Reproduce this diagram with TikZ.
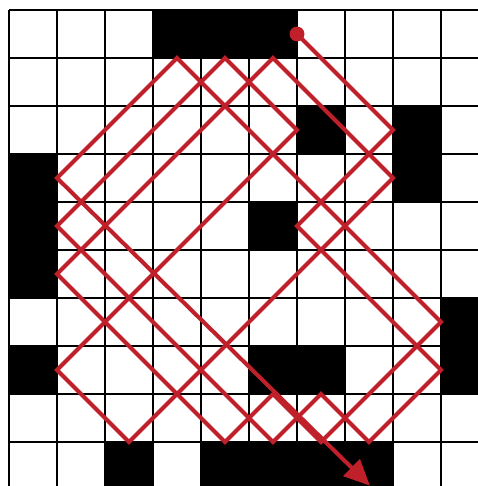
\documentclass[tikz,border=0pt]{standalone}
\usetikzlibrary{arrows.meta}
\definecolor{raycol}{RGB}{192,32,42}
\begin{document}
\begin{tikzpicture}[x=1cm,y=-1cm,
  gridline/.style={line width=1.1pt,black},
  blackcell/.style={fill=black},
  raypath/.style={draw=raycol,line width=2.4pt,line join=miter,miter limit=10}]
\useasboundingbox (-0.1875,-0.2083) rectangle (9.7708,9.9167);
\fill[white] (-0.1875,-0.2083) rectangle (9.7708,9.9167);
\begin{scope}
\clip (-0.1875,-0.2083) rectangle (9.7708,9.9167);
\foreach \c/\r in {3/0,4/0,5/0,6/2,8/2,0/3,8/3,0/4,5/4,0/5,9/6,0/7,5/7,6/7,9/7,2/9,4/9,5/9,6/9,7/9}
  \fill[blackcell] (\c,\r) rectangle ++(1,1);
\foreach \i in {0,...,9} {
  \draw[gridline] (\i,0) -- (\i,10);
  \draw[gridline] (0,\i) -- (10,\i);
}
\end{scope}
% reflection points of the ray
\coordinate (p0) at (6,0.5);
\coordinate (p1) at (8,2.5);
\coordinate (p2) at (6,4.5);
\coordinate (p3) at (9,7.5);
\coordinate (p4) at (7.5,9);
\coordinate (p5) at (6.5,8);
\coordinate (p6) at (5.5,9);
\coordinate (p7) at (1,4.5);
\coordinate (p8) at (4.5,1);
\coordinate (p9) at (6,2.5);
\coordinate (p10) at (1,7.5);
\coordinate (p11) at (2.5,9);
\coordinate (p12) at (8,3.5);
\coordinate (p13) at (5.5,1);
\coordinate (p14) at (1,5.5);
\coordinate (p15) at (4.5,9);
\coordinate (p16) at (5.5,8);
\coordinate (p17) at (6.5,9);
\coordinate (p18) at (9,6.5);
\coordinate (p19) at (3.5,1);
\coordinate (p20) at (1,3.5);
\coordinate (pend) at (7.52,9.91);
\draw[raypath,-{Triangle[length=5.4mm,width=4.8mm]}]
  (p0) -- (p1) -- (p2) -- (p3) -- (p4) -- (p5) -- (p6) -- (p7) -- (p8) -- (p9)
  -- (p10) -- (p11) -- (p12) -- (p13) -- (p14) -- (p15) -- (p16) -- (p17)
  -- (p18) -- (p19) -- (p20) -- (pend);
\fill[raycol] (p0) circle (0.155);
\end{tikzpicture}
\end{document}
